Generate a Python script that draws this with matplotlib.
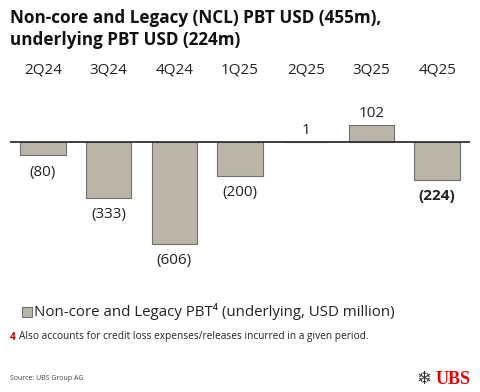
import matplotlib
matplotlib.use("Agg")
import matplotlib.pyplot as plt

categories = ["2Q24", "3Q24", "4Q24", "1Q25", "2Q25", "3Q25", "4Q25"]
values = [-80, -333, -606, -200, 1, 102, -224]
labels = ["(80)", "(333)", "(606)", "(200)", "1", "102", "(224)"]
bold_flags = [False, False, False, False, False, False, True]

plt.rcParams['font.family'] = ['Open Sans', 'DejaVu Sans']

W, H = 480, 392
fig = plt.figure(figsize=(W/100, H/100), dpi=100)

def fx(px): return px / W
def fy(py): return 1 - py / H

ax = fig.add_axes([fx(10), fy(250), fx(460), fy(115) - fy(250)])
ax.set_xlim(-0.5, len(categories) - 0.5)
ax.set_ylim(-641.5, 160.5)
ax.axis('off')

x = list(range(len(categories)))
ax.bar(x, values, width=0.69, color="#bab5a6", edgecolor="#707070", linewidth=0.8, zorder=2)
ax.axhline(0, color="#333333", linewidth=1.3, zorder=3)

for xi, v, lab, b in zip(x, values, labels, bold_flags):
    if v >= 0:
        ax.annotate(lab, (xi, v), xytext=(0, 3), textcoords="offset points",
                    ha="center", va="bottom", fontsize=11,
                    fontweight="bold" if b else "normal", color="#222222")
    else:
        ax.annotate(lab, (xi, v), xytext=(0, -6.5), textcoords="offset points",
                    ha="center", va="top", fontsize=11,
                    fontweight="bold" if b else "normal", color="#222222")

for xi, c in zip(x, categories):
    fig.text(fx(10 + (xi + 0.5) * 460 / 7), fy(70), c, ha="center", va="center",
             fontsize=11, color="#222222")

fig.text(fx(10), fy(18), "Non-core and Legacy (NCL) PBT USD (455m),", ha="left", va="center",
         fontsize=12.3, fontweight="bold", color="#111111")
fig.text(fx(10), fy(40), "underlying PBT USD (224m)", ha="left", va="center",
         fontsize=12.3, fontweight="bold", color="#111111")

# legend
fig.patches.append(plt.Rectangle((fx(22), fy(317)), fx(10), fy(307) - fy(317),
                                 transform=fig.transFigure, facecolor="#bab5a6",
                                 edgecolor="#707070", linewidth=0.8))
fig.text(fx(34), fy(312), "Non-core and Legacy PBT\u2074 (underlying, USD million)",
         ha="left", va="center", fontsize=10.8, color="#222222")

fig.text(fx(10), fy(337), "4", ha="left", va="center", fontsize=7.3, fontweight="bold", color="#cc0000")
fig.text(fx(19), fy(337), "Also accounts for credit loss expenses/releases incurred in a given period.",
         ha="left", va="center", fontsize=7.3, color="#222222")

fig.text(fx(10), fy(379), "Source: UBS Group AG", ha="left", va="center", fontsize=5, color="#444444")

fig.text(fx(424), fy(379), "\u2744", ha="center", va="center", fontsize=13,
         color="#333333", family="DejaVu Sans")
fig.text(fx(436), fy(379), "UBS", ha="left", va="center", fontsize=13, fontweight="bold",
         color="#e60000", family="Liberation Serif")

fig.savefig("out.png", dpi=100)
